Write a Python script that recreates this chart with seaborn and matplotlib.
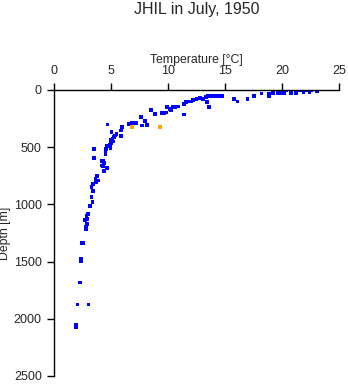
import matplotlib
matplotlib.use("Agg")
import matplotlib.pyplot as plt
import seaborn as sns
import pandas as pd

# Temperature [°C] and depth [m] of the main (blue) samples
temp_main = [23.1, 22.6, 22.4, 22.1, 21.9, 21.55, 21.3, 21.2, 20.8, 20.4, 20.03, 20.2, 19.9, 19.6, 19.2,
             18.86, 18.86, 18.2, 17.54, 16.96, 16.1, 15.8,
             14.7, 14.4, 14.1, 13.8, 13.5, 13.3, 13.07, 12.8, 12.5, 12.2, 12.0, 11.8, 11.55, 11.38, 11.4, 13.4, 13.6,
             10.85, 10.6, 10.4, 10.15, 9.9, 10.27, 9.86, 9.62, 9.42, 8.86, 8.48, 7.63, 7.98, 7.72, 8.16,
             6.58, 6.8, 7.17, 6.0, 5.88, 5.97, 4.68, 5.03, 5.9, 5.85,
             5.47, 5.32, 5.24, 5.12, 5.0, 5.18, 4.97, 4.89, 4.74, 4.65, 4.53, 4.5, 4.95, 3.5, 4.5, 3.5,
             4.16, 4.3, 4.36, 4.2, 4.3, 4.65, 4.36,
             3.77, 3.63, 3.86, 3.66, 3.42, 3.28, 3.42, 3.28, 3.37, 3.13, 2.98, 2.84, 2.69, 2.9, 2.9, 2.78, 2.78,
             2.54, 2.46, 2.34, 2.34, 2.25, 2.05, 3.0, 1.9, 1.9]
depth_main = [10, 6, 17, 6, 17, 6, 6, 29, 29, 6, 6, 29, 29, 29, 29,
              32, 58, 32, 55, 79, 102, 81,
              52, 52, 52, 52, 52, 62, 79, 73, 79, 88, 102, 102, 108, 122, 215, 108, 152,
              146, 152, 152, 166, 152, 181, 199, 204, 204, 213, 178, 239, 271, 312, 309,
              300, 292, 292, 330, 356, 326, 304, 370, 405, 402,
              388, 400, 414, 429, 437, 452, 464, 481, 496, 487, 516, 531, 510, 519, 563, 598,
              621, 621, 641, 662, 665, 685, 709,
              750, 779, 793, 811, 822, 851, 884, 939, 982, 1015, 1085, 1100, 1137, 1131, 1175, 1196, 1216,
              1336, 1341, 1479, 1494, 1683, 1875, 1875, 2056, 2071]

# Flagged (orange) samples
temp_flag = [6.84, 9.27]
depth_flag = [326, 326]

x_ticks = [0, 5, 10, 15, 20, 25]
y_ticks = [0, 500, 1000, 1500, 2000, 2500]

df = pd.DataFrame({
    "temp": temp_main + temp_flag,
    "depth": depth_main + depth_flag,
    "group": ["main"] * len(temp_main) + ["flag"] * len(temp_flag),
})

sns.set_style("white")
plt.rcParams["font.family"] = ["Liberation Sans", "DejaVu Sans"]

fig = plt.figure(figsize=(3.48, 3.84), dpi=100)
ax = fig.add_axes([0.156, 0.021, 0.818, 0.745])

sns.scatterplot(data=df, x="temp", y="depth", hue="group",
                palette={"main": "#0000ff", "flag": "#ffa500"},
                marker="s", s=7, linewidth=0, legend=False, ax=ax)

ax.set_xlim(0, 25)
ax.set_ylim(2500, 0)
ax.set_xticks(x_ticks)
ax.set_yticks(y_ticks)
ax.xaxis.tick_top()
ax.xaxis.set_label_position("top")
ax.set_xlabel("Temperature [°C]", fontsize=8.8, labelpad=2)
ax.set_ylabel("Depth [m]", fontsize=8.8, labelpad=2)
ax.tick_params(axis="both", labelsize=9, length=5, width=1, color="black",
               direction="out", pad=4)
ax.tick_params(axis="x", top=True, bottom=False)
ax.tick_params(axis="y", left=True, right=False)

for side in ["right", "bottom"]:
    ax.spines[side].set_visible(False)
for side in ["top", "left"]:
    ax.spines[side].set_visible(True)
    ax.spines[side].set_color("black")
    ax.spines[side].set_linewidth(1)

fig.text(0.565, 0.974, "JHIL in July, 1950", ha="center", va="center", fontsize=11.5)

fig.savefig("out.png", dpi=100)
